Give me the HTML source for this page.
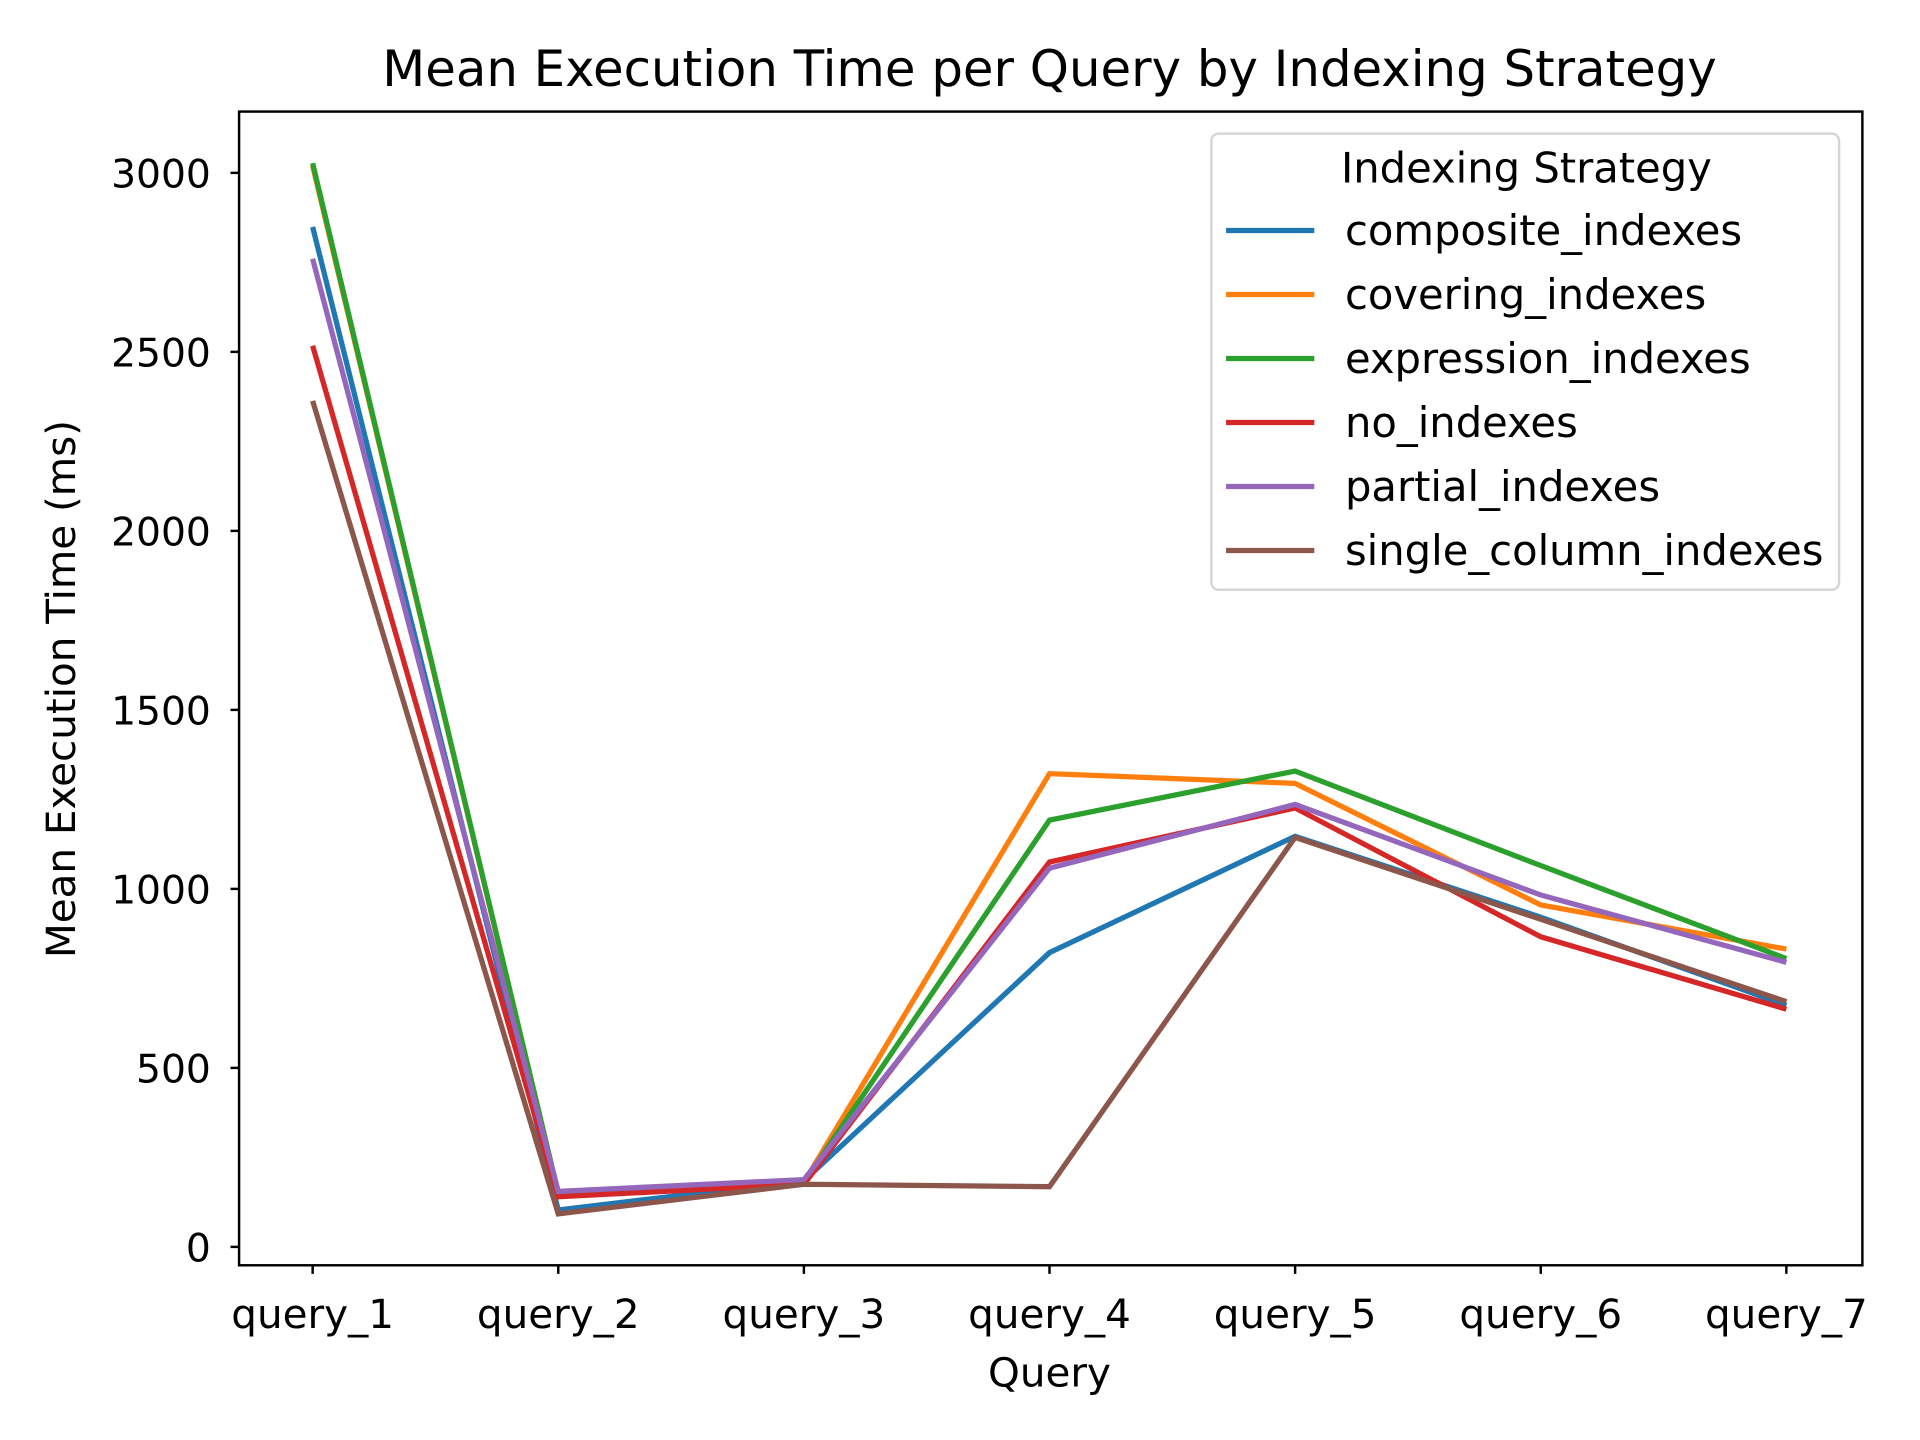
<!DOCTYPE html>
<html><head><meta charset="utf-8"><style>
html,body{margin:0;padding:0;background:#fff;}
svg{display:block;font-family:"DejaVu Sans","Liberation Sans",sans-serif;}
</style></head><body>
<svg id="chart" width="1920" height="1440" viewBox="0 0 1566 1174.5" preserveAspectRatio="none" xmlns="http://www.w3.org/2000/svg">
<rect width="1566" height="1175" fill="#fff"/>
<text x="856" y="70" font-size="40.6" text-anchor="middle">Mean Execution Time per Query by Indexing Strategy</text>
<g id="plot"></g>
<rect x="195" y="91" width="1324" height="941" fill="none" stroke="#000" stroke-width="2"/>
<text x="856" y="1131" font-size="33" text-anchor="middle">Query</text>
<text x="0" y="0" font-size="33" text-anchor="middle" transform="translate(61,562) rotate(-90)">Mean Execution Time (ms)</text>
<g id="legend"></g>
</svg>
<script>
const categories = ["query_1","query_2","query_3","query_4","query_5","query_6","query_7"];
const yTicks = [0,500,1000,1500,2000,2500,3000];
const seriesNames = ["composite_indexes","covering_indexes","expression_indexes","no_indexes","partial_indexes","single_column_indexes"];
const seriesColors = ["#1f77b4","#ff7f0e","#2ca02c","#d62728","#9467bd","#8c564b"];
const composite = [2849,103,185,822,1147,921,675];
const covering = [3020,150,180,1322,1295,955,832];
const expression = [3027,150,180,1192,1329,1065,805];
const noIdx = [2517,140,175,1075,1226,866,664];
const partial = [2760,155,188,1058,1236,983,795];
const single = [2363,92,175,168,1144,915,685];
const allSeries = [composite,covering,expression,noIdx,partial,single];

const NS="http://www.w3.org/2000/svg";
function xPos(i){return 255+i*(1457-255)/(categories.length-1);}
function yPos(v){return 1017-v*(1017-141)/3000;}
const plot=document.getElementById('plot');
const svg=document.getElementById('chart');
function mk(tag,attrs,parent){const e=document.createElementNS(NS,tag);for(const k in attrs)e.setAttribute(k,attrs[k]);parent.appendChild(e);return e;}

yTicks.forEach(v=>{
  const y=yPos(v);
  const t=mk('line',{x1:188,x2:195,y1:y,y2:y,stroke:'#000','stroke-width':2},svg);
  
  
  const l=mk('text',{x:172,y:y+12,'font-size':32,'text-anchor':'end'},svg);
  
  
  l.textContent=v;
});
categories.forEach((c,i)=>{
  const x=xPos(i);
  const t=mk('line',{x1:x,x2:x,y1:1032,y2:1039,stroke:'#000','stroke-width':2},svg);
  
  
  const l=mk('text',{x:x,y:1083,'font-size':33,'text-anchor':'middle'},svg);
  
  
  l.textContent=c;
});
allSeries.forEach((s,k)=>{
  const pts=s.map((v,i)=>xPos(i).toFixed(1)+','+yPos(v).toFixed(1)).join(' ');
  const p=mk('polyline',{points:pts,fill:'none',stroke:seriesColors[k],'stroke-width':4.3,'stroke-linejoin':'miter'},plot);
  
  
});
const lg=document.getElementById('legend');
const box=mk('rect',{x:988,y:109,width:512,height:372,rx:6,fill:'#fff','fill-opacity':0.8,stroke:'#d6d6d6','stroke-width':2},lg);


const lt=mk('text',{x:1245,y:149,'font-size':34,'text-anchor':'middle'},lg);


lt.textContent='Indexing Strategy';
seriesNames.forEach((n,k)=>{
  const y=188+k*52.2;
  const ln=mk('line',{x1:1000,x2:1072,y1:y,y2:y,stroke:seriesColors[k],'stroke-width':4.3},lg);
  
  
  const tx=mk('text',{x:1097,y:y+12,'font-size':34},lg);
  
  
  tx.textContent=n;
});
</script>
</body></html>
